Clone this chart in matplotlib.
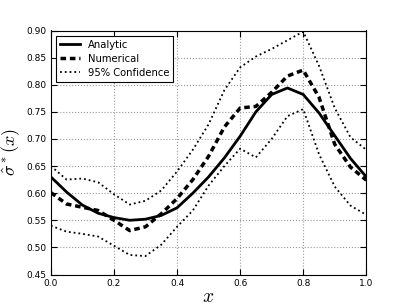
import numpy as np
import matplotlib
matplotlib.use('Agg')
import matplotlib.pyplot as plt

plt.rcParams['mathtext.fontset'] = 'cm'

# values
x = [0.0, 0.05, 0.1, 0.15, 0.2, 0.25, 0.3, 0.35, 0.4, 0.45, 0.5,
     0.55, 0.6, 0.65, 0.7, 0.75, 0.8, 0.85, 0.9, 0.95, 1.0]
analytic = [0.630, 0.602, 0.578, 0.563, 0.555, 0.550, 0.552, 0.559, 0.573, 0.600, 0.630,
            0.665, 0.705, 0.750, 0.782, 0.794, 0.782, 0.748, 0.706, 0.664, 0.630]
numerical = [0.601, 0.580, 0.574, 0.568, 0.550, 0.531, 0.538, 0.562, 0.590, 0.625, 0.668,
             0.722, 0.757, 0.760, 0.786, 0.816, 0.827, 0.777, 0.690, 0.648, 0.624]
upper = [0.650, 0.625, 0.627, 0.620, 0.598, 0.579, 0.586, 0.605, 0.640, 0.680, 0.727,
         0.790, 0.832, 0.852, 0.866, 0.882, 0.898, 0.835, 0.757, 0.703, 0.680]
lower = [0.540, 0.529, 0.525, 0.520, 0.503, 0.486, 0.484, 0.505, 0.538, 0.568, 0.614,
         0.650, 0.682, 0.666, 0.700, 0.742, 0.755, 0.672, 0.612, 0.577, 0.560]

fig = plt.figure(figsize=(4.07, 3.05), dpi=100)
ax = fig.add_axes([0.125, 0.1, 0.775, 0.8])

ax.plot(x, analytic, 'k-', lw=2, label='Analytic')
ax.plot(x, numerical, 'k--', lw=2.5, dashes=(1.6, 1.1), label='Numerical')
ax.plot(x, upper, 'k:', lw=1.3, label='95% Confidence')
ax.plot(x, lower, 'k:', lw=1.3)

ax.set_xlim(0, 1)
ax.set_ylim(0.45, 0.90)
ax.set_xticks(np.arange(0, 1.01, 0.2))
ax.set_yticks(np.arange(0.45, 0.901, 0.05))
ax.xaxis.set_major_formatter(plt.FormatStrFormatter('%.1f'))
ax.yaxis.set_major_formatter(plt.FormatStrFormatter('%.2f'))
ax.tick_params(labelsize=6.5, direction='in', top=True, right=True, length=4, pad=3)
ax.grid(True, color='0.6', linestyle=':', lw=0.8)
ax.set_xlabel('$x$', fontsize=14)
ax.set_ylabel(r'$\hat{\sigma}^*(x)$', fontsize=13)
ax.xaxis.set_label_coords(0.5, -0.05)
ax.yaxis.set_label_coords(-0.09, 0.5)

leg = ax.legend(loc='upper left', fontsize=7.2, fancybox=False, framealpha=1,
                edgecolor='k', borderaxespad=0.5, handlelength=2.0,
                labelspacing=0.4, handletextpad=0.8)
leg.get_frame().set_linewidth(0.8)

fig.savefig('out.png', dpi=100)
